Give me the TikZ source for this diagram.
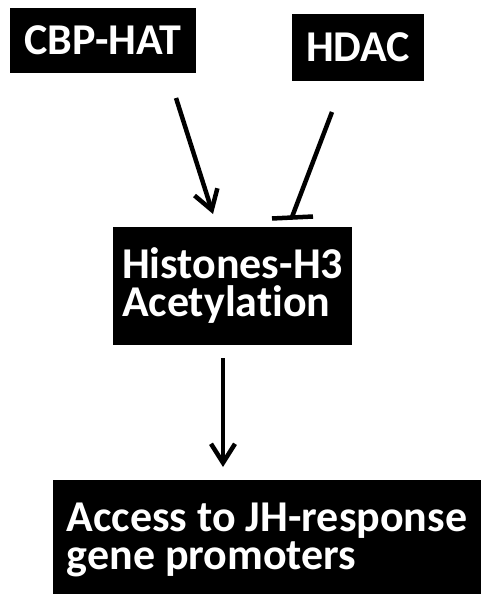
\documentclass[tikz,border=0pt]{standalone}
\usepackage{fontspec}
\setmainfont{Carlito}[Ligatures={NoCommon}]
\usetikzlibrary{arrows.meta}
\begin{document}
\begin{tikzpicture}[x=1pt,y=-1pt,
  blackbox/.style={fill=black,text=white,inner sep=0pt,outer sep=0pt,align=left,
    font=\fontsize{44}{38}\selectfont\bfseries},
  conn/.style={line width=4.5pt},
  actarrow/.style={conn,-{Straight Barb[length=19pt,width=24pt,line width=4.5pt]}},
]
\useasboundingbox (0,0) rectangle (481,594);
\node[blackbox,minimum width=186pt,minimum height=65pt] (cbp) at (103,40.5) {CBP-HAT};
\node[blackbox,minimum width=132pt,minimum height=67pt] (hdac) at (358,47.5) {HDAC};
\node[blackbox,minimum width=239pt,minimum height=118pt] (hist) at (232.5,286) {Histones-H3\\Acetylation};
\node[blackbox,minimum width=428pt,minimum height=120pt] (acc) at (267,540) {Access to JH-response\\gene promoters};
% connector end points
\coordinate (a1s) at (176,98);
\coordinate (a1e) at (213,214);
\coordinate (i1s) at (332,112);
\coordinate (i1e) at (292,217);
\coordinate (barl) at (272,218.5);
\coordinate (barr) at (313,216.5);
\coordinate (a2s) at (223,358);
\coordinate (a2e) at (223,467);
\draw[actarrow] (a1s) -- (a1e);
\draw[conn] (i1s) -- (i1e);
\draw[conn] (barl) -- (barr);
\draw[actarrow] (a2s) -- (a2e);
\end{tikzpicture}
\end{document}
